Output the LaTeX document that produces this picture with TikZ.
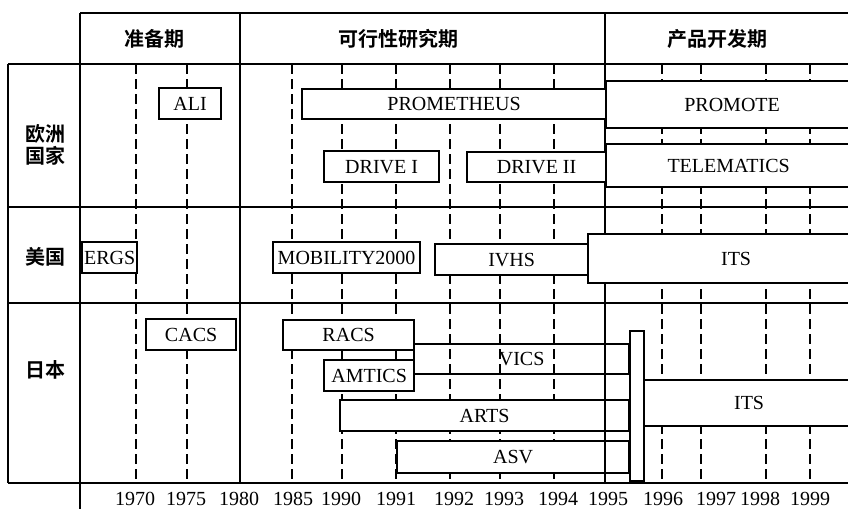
\documentclass[tikz,border=0pt]{standalone}
\usepackage{fontspec}
\setmainfont{Liberation Serif}
\newfontfamily\cjk{Noto Sans CJK SC}[BoldFont=* Bold]
\usepackage{tikz}
\usetikzlibrary{positioning,calc}

\begin{document}
\begin{tikzpicture}[
  x=1pt, y=-1pt,
  every node/.style={font=\fontsize{20}{22}\selectfont},
  frame/.style={line width=1.4pt},
  yearline/.style={line width=1.2pt, dash pattern=on 10pt off 5pt},
  prog/.style={draw, line width=2.2pt, fill=white, inner sep=0pt, anchor=north west},
  open/.style={prog, fill=none},
  hdr/.style={font=\fontsize{20}{22}\selectfont\cjk\bfseries, align=center}
]
\useasboundingbox (0,0) rectangle (848,509);
\clip (0,0) rectangle (848,509);

\foreach \x in {136,187,292,342,396,450,500,554,662,701,766,810}
  \draw[yearline] (\x,64) -- (\x,483);

\draw[frame] (80,13) -- (848,13);
\draw[frame] (8,64) -- (848,64);
\draw[frame] (8,207) -- (848,207);
\draw[frame] (8,303) -- (848,303);
\draw[frame] (8,483) -- (848,483);
\draw[frame] (8,64) -- (8,483);
\draw[frame] (80,13) -- (80,509);
\draw[frame] (240,13) -- (240,483);
\draw[frame] (605,13) -- (605,483);

\node[hdr] (prep) at (154,39) {准备期};
\node[hdr] (study) at (398,39) {可行性研究期};
\node[hdr] (product) at (717,39) {产品开发期};
\node[hdr] (europe) at (45,145) {欧洲\\国家};
\node[hdr] (usa) at (45,257) {美国};
\node[hdr] (japan) at (45,370) {日本};

\node[prog, minimum width=62pt, minimum height=31pt] (ali) at (158,87) {ALI};
\node[prog, minimum width=304pt, minimum height=30pt] (prometheus) at (301,88) {PROMETHEUS};
\node[prog, minimum width=252pt, minimum height=47pt] (promote) at (605,80) {PROMOTE};
\node[prog, minimum width=115pt, minimum height=31pt] (drive1) at (323,150) {DRIVE I};
\node[prog, minimum width=139pt, minimum height=30pt] (drive2) at (466,151) {DRIVE II};
\node[prog, minimum width=245pt, minimum height=43pt] (telematics) at (605,143) {TELEMATICS};

\node[prog, minimum width=55pt, minimum height=31pt] (ergs) at (81,241) {ERGS};
\node[prog, minimum width=147pt, minimum height=31pt] (mobility) at (272,241) {MOBILITY2000};
\node[prog, minimum width=153pt, minimum height=31pt] (ivhs) at (434,243) {IVHS};
\node[prog, minimum width=296pt, minimum height=49pt] (itsus) at (587,233) {ITS};

\node[open, minimum width=215pt, minimum height=30pt] (vics) at (413,343) {VICS};
\node[prog, minimum width=90pt, minimum height=31pt] (cacs) at (145,318) {CACS};
\node[prog, minimum width=131pt, minimum height=30pt] (racs) at (282,319) {RACS};
\node[prog, minimum width=90pt, minimum height=31pt] (amtics) at (323,359) {AMTICS};
\node[prog, minimum width=289pt, minimum height=31pt] (arts) at (339,399) {ARTS};
\node[prog, minimum width=232pt, minimum height=32pt] (asv) at (396,440) {ASV};
\draw[frame] (605,303) -- (605,483);
\node[prog, minimum width=14pt, minimum height=150pt] (joint) at (629,330) {};
\node[prog, minimum width=210pt, minimum height=46pt] (itsjp) at (643,379) {ITS};

\foreach \x/\yr in {135/1970,186/1975,239/1980,293/1985,341/1990,396/1991,454/1992,
  504/1993,558/1994,608/1995,663/1996,716/1997,760/1998,810/1999}
  \node (y\yr) at (\x,499) {\yr};
\end{tikzpicture}
\end{document}
